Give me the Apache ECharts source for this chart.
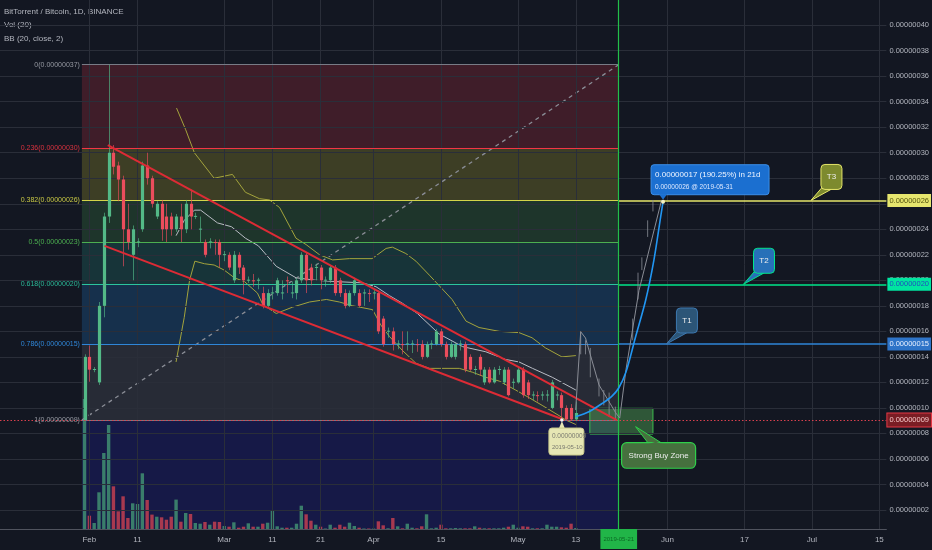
<!DOCTYPE html>
<html><head><meta charset="utf-8">
<script src="https://cdn.jsdelivr.net/npm/echarts@6/dist/echarts.min.js"></script>
<style>html,body{margin:0;padding:0;background:#131722}#c{width:932px;height:550px}</style>
</head><body><div id="c"></div><script>
// ---------------- DATA (x = days since 2019-02-01, prices in 1e-8 BTC) ----------------
const xTickDays = [0, 10, 28, 38, 48, 59, 73, 89, 101, 120, 136, 150, 164];
const xTickLabels = ['Feb', '11', 'Mar', '11', '21', 'Apr', '15', 'May', '13', 'Jun', '17', 'Jul', '15'];
const yTicks = [2, 4, 6, 8, 10, 12, 14, 16, 18, 20, 22, 24, 26, 28, 30, 32, 34, 36, 38, 40, 42];

// [day, open, close, low, high]
const candles = [
[-1,9.05,14.0,9.05,14.2],[0,14.0,13.0,12.05,14.9],[1,13.0,13.05,12.8,13.2],[2,12.0,18.0,11.8,18.3],
[3,18.0,25.0,17.1,25.3],[4,25.0,30.0,24.5,36.9],[5,30.0,28.9,28.3,30.6],[6,29.0,27.9,26.2,29.3],
[7,27.9,24.0,21.1,28.2],[8,24.0,23.0,22.4,26.0],[9,22.0,24.0,20.0,24.3],[10,23.0,23.05,22.6,23.3],
[11,24.0,29.0,23.8,29.3],[12,29.0,28.0,27.5,30.0],[13,28.0,26.0,25.7,28.2],[14,25.0,26.0,24.8,26.2],
[15,26.0,24.0,23.1,26.3],[16,25.0,24.0,23.0,26.0],[17,25.0,24.0,23.5,25.3],[18,24.0,25.0,23.8,25.2],
[19,25.0,24.0,23.0,26.0],[20,24.0,26.0,23.7,26.3],[21,26.0,25.0,24.0,27.1],[22,25.0,25.05,24.8,25.3],
[23,24.0,24.05,23.0,25.0],[24,23.0,22.0,21.8,23.2],[25,23.0,23.05,22.5,23.3],[26,23.0,22.95,22.0,23.2],
[27,23.0,22.0,21.0,23.2],[28,22.0,22.05,21.5,22.3],[29,22.0,21.0,20.8,22.2],[30,20.0,22.0,19.8,22.3],
[31,22.0,21.0,20.5,22.2],[32,21.0,20.0,18.9,21.2],[33,20.0,20.05,19.8,20.3],[34,20.0,19.95,19.5,20.5],
[35,20.0,20.05,19.3,20.2],[36,19.0,18.0,17.8,19.5],[37,18.0,19.0,17.9,19.3],[38,19.0,19.05,18.5,19.5],
[39,19.0,20.0,18.8,20.2],[40,19.0,19.05,18.5,20.0],[41,20.0,19.95,19.0,20.3],[42,19.0,19.05,18.6,19.9],
[43,19.0,20.0,18.5,20.2],[44,20.0,22.0,19.8,22.2],[45,22.0,20.0,19.0,22.2],[46,21.0,20.0,19.6,21.3],
[47,21.0,21.05,20.0,21.3],[48,21.0,20.0,19.3,21.2],[49,20.0,20.05,19.5,20.3],[50,20.0,21.0,19.8,21.2],
[51,21.0,19.0,18.8,21.2],[52,20.0,19.0,18.7,20.2],[53,19.0,18.0,17.8,19.3],[54,18.0,19.0,17.9,19.2],
[55,19.0,20.0,18.8,20.2],[56,19.0,18.0,17.9,19.3],[57,19.0,19.05,18.0,19.3],[58,19.0,18.95,18.3,19.3],
[59,19.0,19.05,18.5,19.3],[60,19.0,16.0,15.8,19.2],[61,17.0,15.0,14.8,17.2],[62,16.0,16.05,15.5,16.3],
[63,16.0,15.0,14.5,16.3],[64,15.0,15.05,14.6,15.3],[65,15.0,14.95,14.2,16.0],[66,15.0,15.05,14.5,16.0],
[67,15.0,15.05,14.3,15.3],[68,15.0,14.95,14.4,15.4],[69,15.0,14.0,13.8,15.3],[70,14.0,15.0,13.9,15.2],
[71,15.0,15.05,14.6,15.3],[72,15.0,16.0,14.9,16.2],[73,16.0,15.0,14.8,16.2],[74,15.0,14.0,13.8,15.2],
[75,14.0,15.0,13.9,15.2],[76,14.0,15.0,13.8,15.1],[77,15.0,15.05,14.5,15.3],[78,15.0,13.0,12.8,15.2],
[79,14.0,13.0,12.9,14.2],[80,13.0,13.05,12.6,13.3],[81,14.0,13.0,12.5,14.2],[82,12.0,13.0,11.8,13.2],
[83,13.0,12.0,11.9,13.2],[84,12.0,13.0,11.9,13.2],[85,13.0,13.05,12.6,13.3],[86,12.0,13.0,11.8,13.2],
[87,13.0,11.0,10.9,13.2],[88,12.0,12.05,11.5,12.3],[89,12.0,13.0,11.9,13.2],[90,13.0,11.0,10.8,13.2],
[91,12.0,11.0,10.7,12.2],[92,11.0,11.05,10.6,11.3],[93,11.0,10.95,10.5,11.3],[94,11.0,11.05,10.6,11.3],
[95,11.0,11.05,10.5,11.4],[96,10.0,12.0,9.9,12.2],[97,11.0,11.05,10.6,11.3],[98,11.0,10.0,9.05,11.2],
[99,10.0,9.1,9.05,10.2],[100,10.0,9.1,9.0,10.3],[101,9.1,9.6,9.0,10.5]
];
// volume per candle (same order as candles)
const volumes = [130,13.3,6,36.7,76,104,42.7,17.7,32.7,11,25.7,25,55.7,29,14.4,12.3,11.7,9.3,12.3,29.4,
7.3,16,15,6,5.3,7,4.3,7.3,7,3,2.3,6.7,1.3,2.3,5.7,2.3,2.3,5.3,6.3,19,2.7,1.3,1.3,1.3,5.3,23.3,14.7,8.3,
4.3,2.3,0.5,4.3,1.3,4.3,2.3,6.3,3,1.3,0.5,0.5,0.5,7.7,3.7,0.7,11,2.7,0.7,5.3,1.3,0.7,2.7,14.7,0.7,1.3,
4.3,0.7,0.7,1,0.7,0.7,0.7,2.7,1.3,0.7,0.7,0.7,0.7,1.3,2.3,4.3,1.3,2.7,2.3,0.7,0.7,0.7,4.3,2.3,2.3,1.7,
1.3,5.3,1.0];

const bbUpper = [[18.1,33.5],[20,31.8],[21.8,30.0],[25.9,28.0],[29.7,28.3],[32.4,26.9],[35.3,26.4],[37.4,26.3],
[39.5,25.7],[42.9,23.3],[45,22.8],[47.8,22.0],[50.5,21.6],[54,21.7],[58.7,21.7],[61.6,22.5],[62.9,22.6],
[65.7,22.1],[67.8,21.5],[70.6,20.4],[75.3,18.5],[78.2,16.8],[80.9,16.3],[85.1,16.0],[89.2,15.9],[91.9,15.5],
[94.7,14.7],[98.1,14.0],[101,14.1]];
const bbMiddle = [[18.0,23.5],[19.7,24.7],[21.8,25.5],[23.1,25.5],[26.6,24.5],[29.5,24.2],[32.4,23.3],[35.1,22.7],
[38.8,21.1],[42.9,20.2],[47.1,20.0],[51.2,19.9],[56.7,19.8],[59.5,19.5],[62.3,18.8],[65.0,18.2],[68.1,17.4],
[72.6,15.8],[77.5,14.8],[82.3,14.4],[86.4,13.8],[89.2,13.6],[92,13.1],[96.1,12.4],[101,11.4]];
const bbLower = [[18.0,13.6],[19.7,17.1],[20.8,20.0],[21.9,21.5],[23.9,21.3],[25.9,21.2],[28.0,20.8],[30.1,20.2],
[32.2,19.9],[34.9,19.0],[36.0,18.1],[38.8,17.4],[42.2,17.9],[45.7,18.3],[49.2,18.5],[51.9,18.3],[54.7,18.0],
[58.8,17.7],[60.5,16.5],[62.3,15.6],[65.0,14.5],[67.8,13.5],[70.6,13.1],[72.6,13.1],[76.8,13.1],[79.5,12.8],
[82.3,12.4],[85.1,12.1],[88.5,11.4],[91.3,10.8],[94,10.2],[97.5,9.4],[98.9,9.05],[101,8.7]];

// Fibonacci retracement
const fibRatios = ['0', '0.236', '0.382', '0.5', '0.618', '0.786', '1'];
const fibPrices = [36.9, 30.33, 26.26, 22.97, 19.69, 15.01, 9.05];
const fibStartDay = -1.55, fibEndDay = 109.9;

// drawings
const channelUpper = [[3.83, 30.6], [109.5, 9.05]];
const channelLower = [[3.15, 22.7], [98.1, 9.13]];
const fibTrend = [[-1.55, 9.05], [109.9, 36.9]];
const ghostPath = [[100.95,9.84],[102.0,15.97],[103.0,15.48],[105.8,11.8],[109.3,9.6],[110.1,9.2],[111.4,13.0],[114.1,19.2],[118.8,26.3]];
const ghostBars = [[102,14.2,16.0],[103,14.2,15.3],[104,12.4,14.7],[105.8,10.9,12.3],[106.8,10.2,11.4],[107.9,9.3,11.2],
[109.2,9.05,10.1],[112.8,15.3,17.0],[113.9,18.5,20.6],[114.7,20.8,21.8],[115.9,23.4,24.7],[117,25.4,26.3]];
const projectionPath = [[100.95,9.31],[103.7,9.70],[106.5,10.36],[108.5,10.93],[109.9,11.56],[111.4,12.81],[113.4,15.58],
[115.5,18.46],[117.2,21.59],[118.6,24.98],[119.1,26.16]];
const projectionTarget = [119.1, 26.16];
const projectionTexts = ['0.00000017 (190.25%) in 21d', '0.00000026 @ 2019-05-31'];
const lowPoint = [98.1, 9.05];
const lowTexts = ['0.00000009', '2019-05-10'];
const signalDay = 109.9;
const signalDate = '2019-05-21';
const targetNames = ['T1', 'T2', 'T3'];
const targetPrices = [15.01, 19.69, 26.26];
const targetAnchorDays = [119.8, 135.8, 149.8];
const buyZone = [[103.9, 9.97], [117.0, 7.95]];
const buyZoneTip = [113.4, 8.53];
const buyZoneText = 'Strong Buy Zone';
const supportPrice = 9.05;
const lastPrice = 7.98;
const titleLines = ['BitTorrent / Bitcoin, 1D, BINANCE', 'Vol (20)', 'BB (20, close, 2)'];

// ---------------- STYLE / LAYOUT ----------------
const xMin = -18.55, xMax = 165.46, yMin = 0.51, yMax = 41.97;
const FONT = '"Liberation Sans", Arial, sans-serif';
const fmtP = v => (v / 1e8).toFixed(8);
const zoneColors = ['rgba(242,54,69,0.2)','rgba(230,220,50,0.2)','rgba(76,175,80,0.2)','rgba(40,170,150,0.2)','rgba(33,150,243,0.2)','rgba(120,123,134,0.2)'];
const fibLineColors = ['#787b86','#f23645','#d4d44a','#4caf50','#2cc49e','#2f86d8','#787b86'];
const fibLabelColors = ['#9598a1','#d8323f','#c8c844','#4caf50','#2bb897','#2f86d8','#9598a1'];
const targetStyles = [
  {fill:'#2c5577', stroke:'#3d78b0', line:'#2f86d8', lbg:'#2e74c8', lfg:'#e8f0ff'},
  {fill:'#2770b8', stroke:'#00e68a', line:'#00e68a', lbg:'#00e6a0', lfg:'#1f4fbf'},
  {fill:'#7d8a2e', stroke:'#e6e66a', line:'#e6e66a', lbg:'#e6e66e', lfg:'#55550f'}
];

const chart = echarts.init(document.getElementById('c'));

function renderCandle(params, api) {
  const d = api.value(0), o = api.value(1), c = api.value(2), l = api.value(3), h = api.value(4);
  const pO = api.coord([d, o]), pC = api.coord([d, c]), pL = api.coord([d, l]), pH = api.coord([d, h]);
  const col = c >= o ? '#53b987' : '#eb4d5c';
  const w = 3.2, cx = Math.round(pO[0]) + 0.5;
  const top = Math.min(pO[1], pC[1]), hh = Math.max(1, Math.abs(pO[1] - pC[1]));
  return {type:'group', children:[
    {type:'line', shape:{x1:cx, y1:pH[1], x2:cx, y2:pL[1]}, style:{stroke:col, lineWidth:1, opacity:0.65}},
    {type:'rect', shape:{x:cx - w/2, y:top, width:w, height:hh}, style:{fill:col}}
  ]};
}
function renderGhost(params, api) {
  const a = api.coord([api.value(0), api.value(1)]), b = api.coord([api.value(0), api.value(2)]);
  return {type:'line', shape:{x1:a[0], y1:a[1], x2:b[0], y2:b[1]}, style:{stroke:'#8a8d96', lineWidth:1, opacity:0.8}};
}
function renderTarget(params, api) {
  const p = api.coord([api.value(0), api.value(1)]);
  const i = api.value(2), st = targetStyles[i];
  const bx = p[0] + 10, by = p[1] - 36, bw = 21, bh = 25;
  return {type:'group', children:[
    {type:'polygon', shape:{points:[[p[0], p[1]], [bx + 2, by + bh - 3], [bx + 10, by + bh]]}, style:{fill:st.fill, stroke:st.stroke, lineWidth:1}},
    {type:'rect', shape:{x:bx, y:by, width:bw, height:bh, r:4}, style:{fill:st.fill, stroke:st.stroke, lineWidth:1}},
    {type:'polygon', shape:{points:[[bx + 1.5, by + bh - 5], [bx + 3, by + bh - 1.5], [bx + 9, by + bh - 1.5]]}, style:{fill:st.fill}},
    {type:'text', style:{text:targetNames[i], x:bx + bw/2, y:by + bh/2, align:'center', verticalAlign:'middle', fill:'#eeeeee', font:'8px ' + FONT}}
  ]};
}
function renderProjection(params, api) {
  const p = api.coord([api.value(0), api.value(1)]);
  const bx = p[0] - 12, by = p[1] - 37, bw = 118, bh = 30;
  return {type:'group', children:[
    {type:'rect', shape:{x:bx, y:by, width:bw, height:bh, r:3}, style:{fill:'#1b6fd0', stroke:'#3b8fe9', lineWidth:1}},
    {type:'polygon', shape:{points:[[p[0] - 4, by + bh - 0.5], [p[0] + 4, by + bh - 0.5], [p[0], p[1] - 2]]}, style:{fill:'#1b6fd0'}},
    {type:'text', style:{text:projectionTexts[0], x:bx + 4, y:by + 10, verticalAlign:'middle', fill:'#eef4ff', font:'8px ' + FONT}},
    {type:'text', style:{text:projectionTexts[1], x:bx + 4, y:by + 22, verticalAlign:'middle', fill:'#dce8ff', font:'6.5px ' + FONT}},
    {type:'circle', shape:{cx:p[0], cy:p[1], r:2}, style:{fill:'#f3f0c0'}}
  ]};
}
function renderLow(params, api) {
  const p = api.coord([api.value(0), api.value(1)]);
  const bx = p[0] - 13, by = p[1] + 8, bw = 35, bh = 27;
  return {type:'group', children:[
    {type:'polygon', shape:{points:[[p[0] - 3, by + 0.5], [p[0] + 3, by + 0.5], [p[0], p[1] + 1]]}, style:{fill:'#e6e6b4'}},
    {type:'rect', shape:{x:bx, y:by, width:bw, height:bh, r:3}, style:{fill:'#e6e6b4', stroke:'#c9c98a', lineWidth:1}},
    {type:'text', style:{text:lowTexts[0], x:bx + 3, y:by + 8, verticalAlign:'middle', fill:'#7a7a70', font:'6.5px ' + FONT}},
    {type:'text', style:{text:lowTexts[1], x:bx + 3, y:by + 19, verticalAlign:'middle', fill:'#7a7a70', font:'6px ' + FONT}},
    {type:'circle', shape:{cx:p[0], cy:p[1], r:1.8}, style:{fill:'#f0f0f0'}}
  ]};
}
function renderBuyCallout(params, api) {
  const p = api.coord([api.value(0), api.value(1)]);
  const bx = p[0] - 14, by = p[1] + 16, bw = 74, bh = 25.6;
  return {type:'group', children:[
    {type:'polygon', shape:{points:[[p[0], p[1]], [p[0] + 13, by + 1], [p[0] + 27, by + 1]]}, style:{fill:'#46703e', stroke:'#2fd04a', lineWidth:1}},
    {type:'rect', shape:{x:bx, y:by, width:bw, height:bh, r:5}, style:{fill:'#46703e', stroke:'#2fd04a', lineWidth:1.2}},
    {type:'polygon', shape:{points:[[p[0] + 11, by + 2], [p[0] + 29, by + 2], [p[0] + 20, by - 1]]}, style:{fill:'#46703e'}},
    {type:'text', style:{text:buyZoneText, x:bx + bw/2, y:by + bh/2, align:'center', verticalAlign:'middle', fill:'#ececec', font:'8px ' + FONT}}
  ]};
}

const gridLineData = xTickDays.map(d => ({xAxis:d})).concat(yTicks.map(v => ({yAxis:v})));

const fibAreas = fibPrices.slice(0, -1).map((p, i) => [
  {coord:[fibStartDay, p], itemStyle:{color:zoneColors[i]}}, {coord:[fibEndDay, fibPrices[i + 1]]}
]);
fibAreas.push([{coord:[fibStartDay, fibPrices[6]], itemStyle:{color:'rgba(30,30,150,0.32)'}}, {coord:[fibEndDay, yMin]}]);
const fibLines = fibPrices.map((p, i) => [
  {coord:[fibStartDay, p], lineStyle:{color:fibLineColors[i], width:1.2, type:'solid'},
   label:{show:true, position:'start', distance:2, formatter:fibRatios[i] + '(' + fmtP(p) + ')', color:fibLabelColors[i], fontSize:7, fontFamily:FONT}},
  {coord:[fibEndDay, p]}
]);
const axisLbl = (color, bg, extra) => Object.assign({show:true, position:'end', distance:1, color:color, backgroundColor:bg,
  fontSize:7.5, fontFamily:FONT, padding:[3, 2, 2, 2]}, extra || {});
const priceLines = targetPrices.map((p, i) => [
  {coord:[fibEndDay, p], lineStyle:{color:targetStyles[i].line, width:1.5, type:'solid'}, label:axisLbl(targetStyles[i].lfg, targetStyles[i].lbg, {formatter:fmtP(p)})},
  {coord:[xMax, p]}
]);
priceLines.push([
  {coord:[xMin, supportPrice], lineStyle:{color:'#d8404e', width:1, type:[1.5, 2]}, label:axisLbl('#f5c6c6', '#7a1d24', {formatter:fmtP(supportPrice), borderColor:'#e53945', borderWidth:1})},
  {coord:[xMax, supportPrice]}
]);
priceLines.push([
  {coord:[fibEndDay, lastPrice], lineStyle:{opacity:0}, label:axisLbl('#e0f5ea', '#5cb387', {formatter:fmtP(Math.round(lastPrice + 0.6))})},
  {coord:[xMax, lastPrice]}
]);

const option = {
  animation:false,
  backgroundColor:'#131722',
  textStyle:{fontFamily:FONT},
  grid:{left:0, right:44, top:0, bottom:21},
  xAxis:{type:'value', min:xMin, max:xMax,
    axisLine:{show:true, onZero:false, lineStyle:{color:'#50535e'}},
    axisTick:{show:false},
    splitLine:{show:false},
    axisLabel:{customValues:xTickDays, color:'#b2b5be', fontSize:8, margin:7,
      formatter:v => xTickLabels[xTickDays.indexOf(Math.round(v))] || ''}},
  yAxis:[
    {type:'value', min:yMin, max:yMax, position:'right',
      axisLine:{show:true, lineStyle:{color:'#50535e'}},
      axisTick:{show:true, customValues:yTicks, length:3, lineStyle:{color:'#787b86'}},
      splitLine:{show:false},
      axisLabel:{customValues:yTicks, color:'#b2b5be', fontSize:7.5, margin:3, formatter:v => fmtP(v)}},
    {type:'value', min:0, max:529, show:false}
  ],
  graphic: titleLines.map((t, i) => ({type:'text', left:4, top:[8, 21, 35][i], silent:true,
    style:{text:t, fill:'#b2b5be', font:'8px ' + FONT}})),
  series:[
    {type:'line', data:[], z:1, silent:true,
      markLine:{silent:true, symbol:['none','none'], label:{show:false}, lineStyle:{color:'#2a2e39', width:1, type:'solid'}, data:gridLineData}},
    {type:'line', data:[], z:2, silent:true,
      markArea:{silent:true, data:fibAreas},
      markLine:{silent:true, symbol:['none','none'], lineStyle:{type:'solid'}, data:fibLines}},
    {type:'bar', yAxisIndex:1, z:3, barWidth:3.4, silent:true,
      data:candles.map((c, i) => ({value:[c[0], volumes[i]], itemStyle:{color:c[2] >= c[1] ? '#3a7d6b' : '#a8394f'}}))},
    {type:'line', data:bbUpper, z:4, symbol:'none', silent:true, lineStyle:{color:'#a3a33c', width:1}},
    {type:'line', data:bbLower, z:4, symbol:'none', silent:true, lineStyle:{color:'#a3a33c', width:1}},
    {type:'line', data:bbMiddle, z:4, symbol:'none', silent:true, lineStyle:{color:'#b9bcc4', width:1}},
    {type:'line', data:fibTrend, z:4, symbol:'none', silent:true, lineStyle:{color:'#8a8d96', width:1.3, type:[4, 4]}},
    {type:'custom', renderItem:renderCandle, data:candles, z:5, silent:true, encode:{x:0, y:[1, 2, 3, 4]}},
    {type:'line', data:channelUpper, z:6, symbol:'none', silent:true, lineStyle:{color:'#dd2b35', width:2}},
    {type:'line', data:channelLower, z:6, symbol:'none', silent:true, lineStyle:{color:'#dd2b35', width:2}},
    {type:'line', data:ghostPath, z:6, symbol:'none', silent:true, lineStyle:{color:'#8a8d96', width:1}},
    {type:'custom', renderItem:renderGhost, data:ghostBars, z:6, silent:true},
    {type:'line', data:[], z:6, silent:true,
      markArea:{silent:true, data:[[{coord:buyZone[0], itemStyle:{color:'rgba(90,185,90,0.4)', borderColor:'#3fbf4f', borderWidth:1}}, {coord:buyZone[1]}]]}},
    {type:'line', data:projectionPath, z:7, symbol:'none', smooth:0.3, silent:true, lineStyle:{color:'#2196f3', width:1.6}},
    {type:'line', data:[], z:7, silent:true,
      markLine:{silent:true, symbol:['none','none'], lineStyle:{type:'solid'}, data:priceLines.concat([[
        {coord:[signalDay, yMin], lineStyle:{color:'#22c04a', width:1.2, type:'solid'},
         label:{show:true, position:'start', distance:0, formatter:signalDate, color:'#0b6a24', fontSize:6, backgroundColor:'#21b548', padding:[7, 3, 7, 3]}},
        {coord:[signalDay, yMax]}
      ]])}},
    {type:'custom', renderItem:renderTarget, z:8, silent:true, clip:false,
      data:targetNames.map((n, i) => [targetAnchorDays[i], targetPrices[i], i])},
    {type:'custom', renderItem:renderProjection, z:8, silent:true, clip:false, data:[projectionTarget]},
    {type:'custom', renderItem:renderLow, z:8, silent:true, clip:false, data:[lowPoint]},
    {type:'custom', renderItem:renderBuyCallout, z:8, silent:true, clip:false, data:[buyZoneTip]}
  ]
};
chart.setOption(option);
</script></body></html>
